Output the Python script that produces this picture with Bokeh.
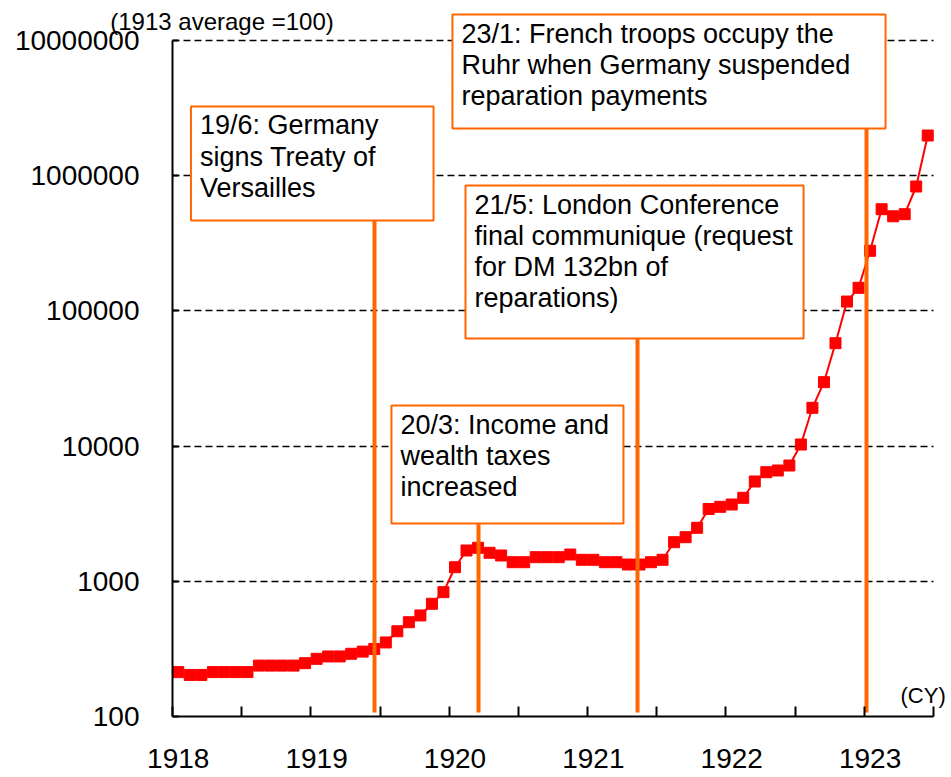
from bokeh.plotting import figure
from bokeh.models import FixedTicker, BoxAnnotation, Label, PrintfTickFormatter
from bokeh.embed import file_html
from bokeh.resources import INLINE

# ---- data (monthly, Jan 1918 .. Jun 1923; 1913 average = 100) ----
month_index = list(range(66))
wholesale_prices = [213, 203, 203, 213, 213, 213, 213, 238, 238, 238, 238, 248,
                    267, 278, 278, 291, 302, 316, 353, 427, 498, 559, 682, 831,
                    1271, 1690, 1769, 1625, 1552, 1384, 1384, 1508, 1508, 1508, 1578, 1442,
                    1442, 1384, 1384, 1331, 1331, 1384, 1442, 1947, 2120, 2487, 3425, 3556,
                    3698, 4146, 5473, 6412, 6600, 7188, 10275, 19203, 29700, 57690, 117300, 148200,
                    278300, 565200, 500800, 519100, 832000, 1983000]
year_labels = ["1918", "1919", "1920", "1921", "1922", "1923"]
y_ticks = [100, 1000, 10000, 100000, 1000000, 10000000]

# events: position in months since Jan 1918, text
event_month = [17.52, 26.54, 40.33, 60.19]
event_text = ["19/6: Germany\nsigns Treaty of\nVersailles",
              "20/3: Income and\nwealth taxes\nincreased",
              "21/5: London Conference\nfinal communique (request\nfor DM 132bn of\nreparations)",
              "23/1: French troops occupy the\nRuhr when Germany suspended\nreparation payments"]

# ---- layout of annotation boxes (left, right, bottom, top) ----
box_left = [1.60, 18.99, 25.41, 24.28]
box_right = [22.64, 39.11, 54.73, 61.84]
box_bottom = [4.67e5, 2676, 6.25e4, 2.23e6]
box_top = [3.25e6, 1.996e4, 8.46e5, 1.556e7]

FONT = "Liberation Sans"
ORANGE = "#FF6600"
N_MONTHS = 66
Y_MIN = 100

p = figure(width=951, height=777, x_range=(-14.917, 67.561),
           y_range=(10 ** 1.5488, 10 ** 7.2959),
           y_axis_type="log", output_backend="svg", toolbar_location=None,
           min_border_left=0, min_border_right=0, min_border_top=0, min_border_bottom=0,
           outline_line_color=None, background_fill_color="white", border_fill_color="white")

# y axis (drawn at x = 0, labels to its left)
p.yaxis.fixed_location = 0
p.yaxis.ticker = FixedTicker(ticks=y_ticks)
p.yaxis.formatter = PrintfTickFormatter(format="%d")
p.yaxis.bounds = (Y_MIN, 10000000)
p.yaxis.axis_line_width = 2
p.yaxis.axis_line_color = "black"
p.yaxis.major_tick_in = 6
p.yaxis.major_tick_out = 0
p.yaxis.major_tick_line_width = 2
p.yaxis.minor_tick_line_color = None
p.yaxis.major_label_text_font = FONT
p.yaxis.major_label_text_font_size = "28px"
p.yaxis.major_label_text_color = "black"
p.yaxis.major_label_standoff = 33

p.ygrid.ticker = FixedTicker(ticks=y_ticks[1:])
p.ygrid.cross_bounds = (0, N_MONTHS)
p.ygrid.grid_line_color = "black"
p.ygrid.grid_line_dash = "7 4"
p.ygrid.grid_line_width = 1.5
p.xgrid.visible = False

# x axis (drawn at y = 100, labels below)
label_pos = [0.5 + 12 * i for i in range(len(year_labels))]
p.xaxis.fixed_location = Y_MIN
p.xaxis.ticker = FixedTicker(ticks=label_pos, minor_ticks=list(range(0, N_MONTHS + 1, 6)))
p.xaxis.major_label_overrides = {pos: lab for pos, lab in zip(label_pos, year_labels)}
p.xaxis.bounds = (0, N_MONTHS)
p.xaxis.axis_line_width = 2
p.xaxis.axis_line_color = "black"
p.xaxis.major_tick_in = 0
p.xaxis.major_tick_out = 0
p.xaxis.minor_tick_in = 10
p.xaxis.minor_tick_out = 0
p.xaxis.minor_tick_line_width = 2
p.xaxis.minor_tick_line_color = "black"
p.xaxis.major_label_text_font = FONT
p.xaxis.major_label_text_font_size = "28px"
p.xaxis.major_label_text_color = "black"
p.xaxis.major_label_standoff = 33

# data
xs = [m + 0.5 for m in month_index]
p.line(xs, wholesale_prices, line_color="#FF0000", line_width=2)
p.scatter(xs, wholesale_prices, marker="square", size=11, fill_color="#FF0000",
          line_color="#FF0000")

# event lines
p.segment(x0=event_month, y0=[107] * 4, x1=event_month, y1=box_bottom,
          line_color=ORANGE, line_width=4)

# event boxes + texts
for l, r, b, t, txt in zip(box_left, box_right, box_bottom, box_top, event_text):
    p.add_layout(BoxAnnotation(left=l, right=r, bottom=b, top=t, fill_color="white",
                               fill_alpha=1.0, line_color=ORANGE, line_width=2,
                               line_alpha=1.0))
    p.add_layout(Label(x=l, y=t, x_offset=9, y_offset=-4, text=txt, text_font=FONT,
                       text_font_size="27px", text_color="black", text_baseline="top",
                       text_align="left", text_line_height=1.04))

p.add_layout(Label(x=-5.4, y=10 ** 7.1405, text="(1913 average =100)", text_font=FONT,
                   text_font_size="24px", text_color="black", text_baseline="middle",
                   text_align="left"))
p.add_layout(Label(x=63.14, y=143, text="(CY)", text_font=FONT,
                   text_font_size="22px", text_color="black", text_baseline="middle",
                   text_align="left"))

open("out.html", "w").write(file_html(p, INLINE))
